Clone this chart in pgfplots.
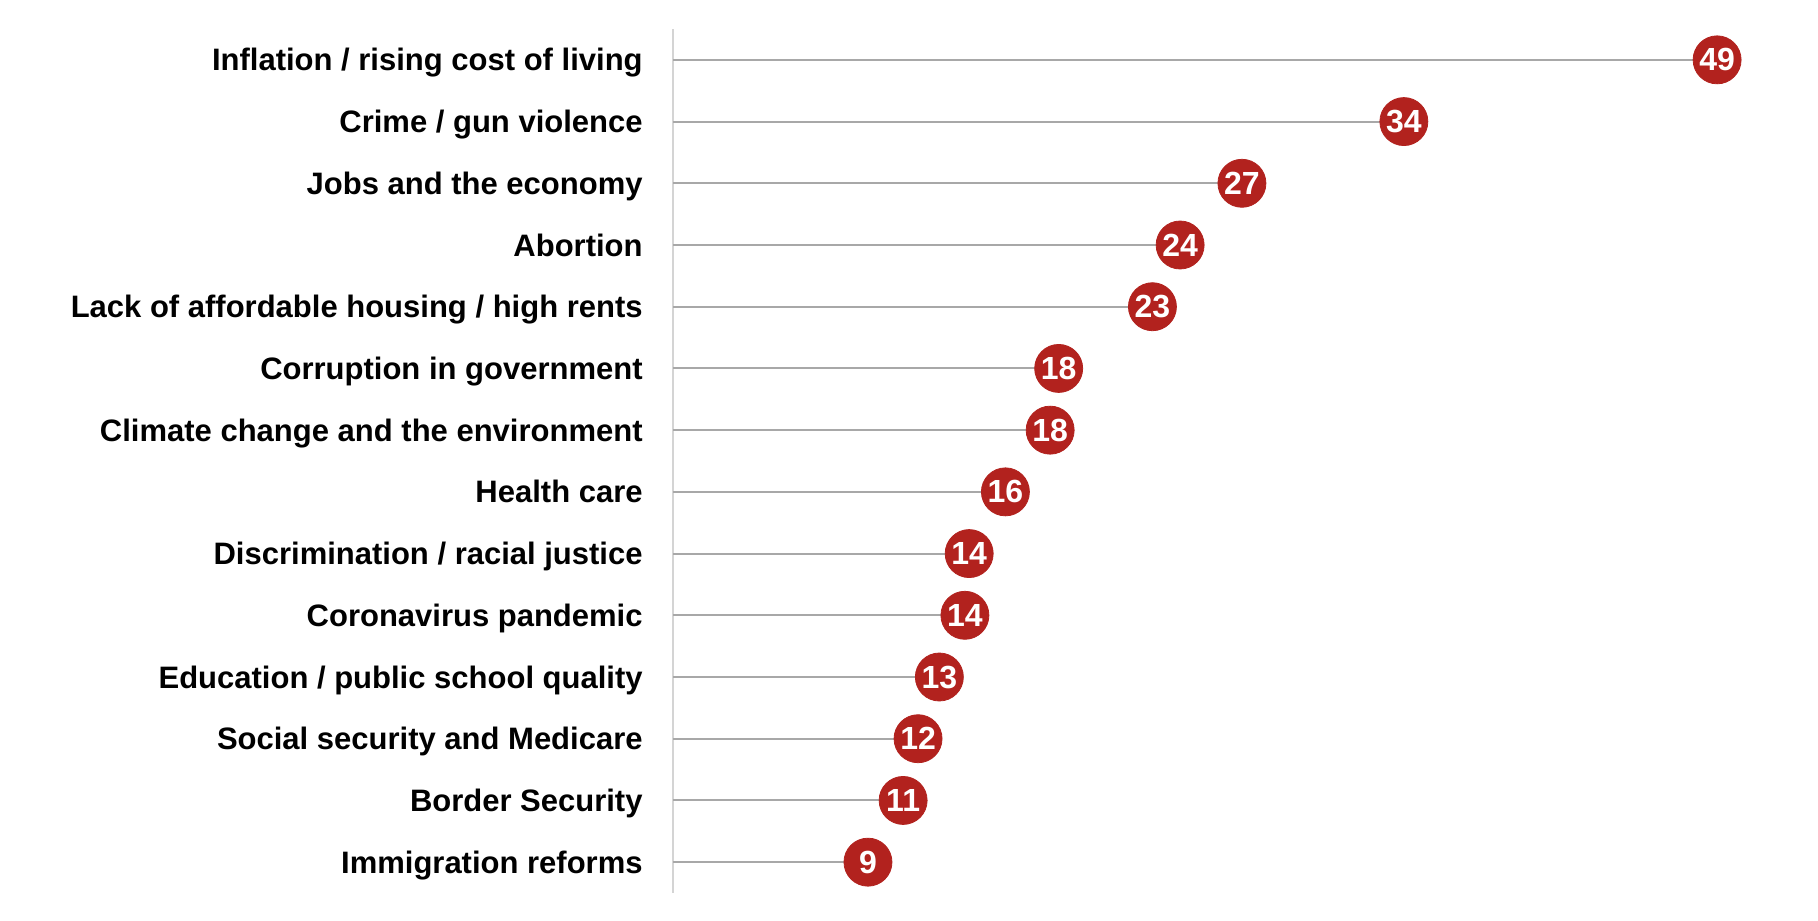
\documentclass[border=0pt]{standalone}
\usepackage{pgfplots}
\pgfplotsset{compat=1.18}
\usepackage{pgfplotstable}
\usepackage{fontspec}
\setmainfont{Liberation Sans}

\definecolor{dotred}{RGB}{178,34,30}
\definecolor{stemgray}{RGB}{168,168,168}
\definecolor{axisgray}{RGB}{212,212,212}

% row = position from the top, val = share in percent
\pgfplotstableread{
row val lab
0 49.0 49
1 34.3 34
2 26.7 27
3 23.8 24
4 22.5 23
5 18.1 18
6 17.7 18
7 15.6 16
8 13.9 14
9 13.7 14
10 12.5 13
11 11.5 12
12 10.8 11
13 9.15 9
}\issues

\begin{document}
\begin{tikzpicture}
\useasboundingbox (0,0) rectangle (909pt,460pt);
\begin{axis}[
    at={(336.5pt,13.5pt)}, anchor=south west,
    scale only axis, width=532.7pt, height=432pt,
    xmin=0, xmax=50, ymin=-0.5, ymax=13.5,
    y dir=reverse, clip=false,
    axis x line=none, axis y line=left,
    axis line style={-, draw=axisgray, line width=0.8pt},
    ytick={0,...,13},
    yticklabels={
        Inflation / rising cost of living,
        Crime / gun violence,
        Jobs and the economy,
        Abortion,
        Lack of affordable housing / high rents,
        Corruption in government,
        Climate change and the environment,
        Health care,
        Discrimination / racial justice,
        Coronavirus pandemic,
        Education / public school quality,
        Social security and Medicare,
        Border Security,
        Immigration reforms},
    major tick length=0pt,
    yticklabel style={font=\bfseries\fontsize{15.5}{18}\selectfont,
        anchor=base east, inner sep=0pt, xshift=-15pt, yshift=-5.5pt, text=black},
]
\addplot[xcomb, draw=stemgray, line width=1pt] table[x=val, y=row] {\issues};
\addplot[only marks, mark=*, mark size=12pt,
    mark options={fill=dotred, draw=dotred},
    point meta=explicit symbolic,
    nodes near coords,
    every node near coord/.append style={anchor=center, text=white,
        font=\bfseries\fontsize{16}{18}\selectfont, inner sep=0pt}]
    table[x=val, y=row, meta=lab] {\issues};
\end{axis}
\end{tikzpicture}
\end{document}
